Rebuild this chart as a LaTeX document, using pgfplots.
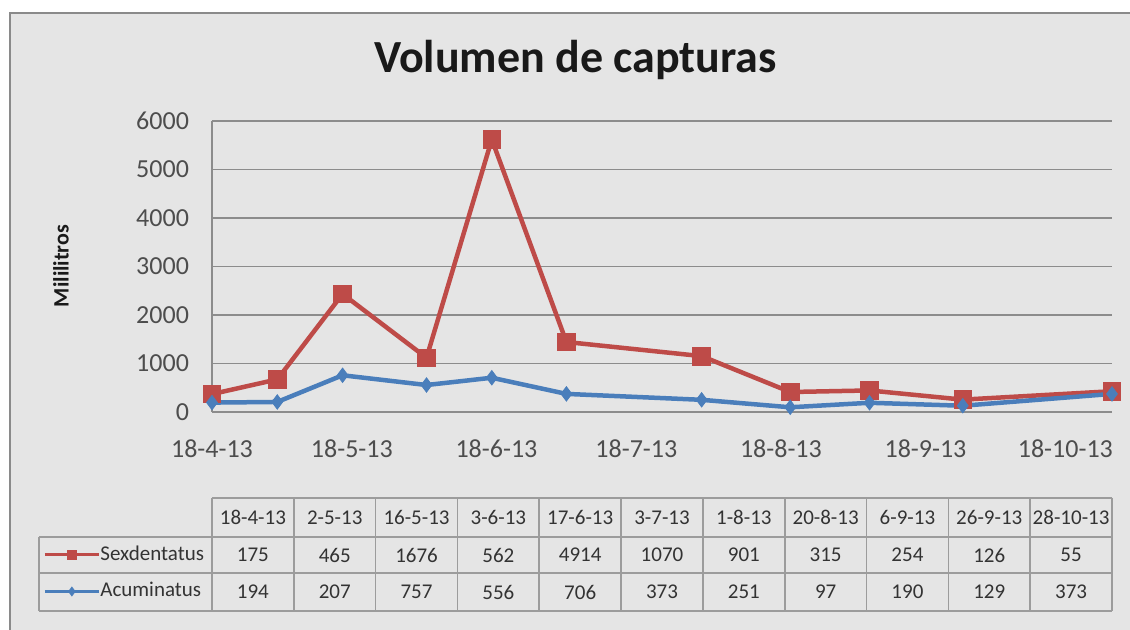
\documentclass[border=0pt]{standalone}
\usepackage{fontspec}
\setmainfont{Carlito}
\usepackage{pgfplots}
\pgfplotsset{compat=1.18}
\usepackage{pgfplotstable}

\definecolor{bgpanel}{HTML}{E5E5E5}
\definecolor{framegray}{HTML}{8A8A8A}
\definecolor{gridgray}{HTML}{8C8C8C}
\definecolor{tablegray}{HTML}{9C9C9C}
\definecolor{ticktext}{HTML}{4D4D4D}
\definecolor{tabtext}{HTML}{333333}
\definecolor{sexred}{HTML}{BE4B48}
\definecolor{acublue}{HTML}{4A7EBB}

% dias desde el 18-4-13; la serie Sexdentatus va apilada sobre Acuminatus
\pgfplotstableread{
x    acu   sex
0    194   175
14   207   465
28   757   1676
46   556   562
60   706   4914
76   373   1070
105  251   901
124  97    315
141  190   254
161  129   126
193  373   55
}\capturas

\begin{document}
\begin{tikzpicture}
\useasboundingbox (0,0) rectangle (565pt,315pt);
\fill[white] (0,0) rectangle (565pt,315pt);
\fill[bgpanel] (5pt,0) rectangle (565pt,308.5pt);
\draw[framegray, line width=0.9pt] (5pt,0) -- (5pt,308.5pt) -- (565pt,308.5pt);

\node[anchor=base, font=\fontsize{23}{27}\selectfont\bfseries, text=black!90]
  at (287.75pt,278.5pt) {Volumen de capturas};
\node[rotate=90, font=\fontsize{11}{13}\selectfont\bfseries, text=black!90]
  at (30.5pt,182pt) {Mililitros};

\begin{axis}[
  at={(106pt,109pt)}, anchor=south west,
  scale only axis, width=450pt, height=145.5pt,
  xmin=0, xmax=193, ymin=0, ymax=6000,
  axis lines*=left,
  axis line style={draw=gridgray, line width=0.75pt},
  xtick={0,30,61,91,122,153,183},
  xticklabels={18-4-13,18-5-13,18-6-13,18-7-13,18-8-13,18-9-13,18-10-13},
  ytick={0,1000,2000,3000,4000,5000,6000},
  ymajorgrids,
  grid style={draw=gridgray, line width=0.75pt},
  major tick length=0pt,
  tick label style={font=\fontsize{13}{15}\selectfont, text=ticktext},
  yticklabel style={xshift=-8pt},
  xticklabel style={yshift=-10.5pt},
  /pgf/number format/assume math mode=true,
  /pgf/number format/1000 sep={},
  stack plots=y,
  clip=false,
  reverse legend,
  legend cell align=left,
  legend style={at={(-0.1878,-0.5533)}, anchor=west, draw=none, fill=none,
    inner sep=0pt, row sep=0pt, column sep=0pt,
    font=\fontsize{10.5}{12}\selectfont, text=tabtext,
    nodes={inner sep=0pt, text height=12pt, text depth=6.5pt}},
  legend image code/.code={
    \draw[mark repeat=2, mark phase=2, #1, line width=1.5pt, mark size=2.2pt]
      plot coordinates {(0pt,0pt) (13.5pt,0pt) (27pt,0pt)};},
]
\addplot[acublue, line width=2.25pt, mark=diamond*, mark size=3.6pt,
  mark options={fill=acublue, draw=acublue, line width=0.4pt}]
  table[x=x, y=acu] {\capturas};
\addplot[sexred, line width=2.25pt, mark=square*, mark size=4.4pt,
  mark options={fill=sexred, draw=sexred, line width=0.4pt}]
  table[x=x, y=sex] {\capturas};
\legend{Acuminatus, Sexdentatus}
\end{axis}

% tabla de datos
\begin{scope}[tablegray, line width=0.8pt]
  \draw (106pt,66pt) -- (556pt,66pt);
  \draw (19.5pt,46.5pt) -- (556pt,46.5pt);
  \draw (19.5pt,28.5pt) -- (556pt,28.5pt);
  \draw (19.5pt,9.5pt) -- (556pt,9.5pt);
  \draw (19.5pt,46.5pt) -- (19.5pt,9.5pt);
  \foreach \k in {0,...,11}
    \draw ({(106+\k*40.909)*1pt},66pt) -- ({(106+\k*40.909)*1pt},9.5pt);
\end{scope}
\begin{scope}[every node/.style={font=\fontsize{10.5}{12}\selectfont, text=tabtext}]
  \foreach \lab [count=\i] in {18-4-13,2-5-13,16-5-13,3-6-13,17-6-13,3-7-13,1-8-13,20-8-13,6-9-13,26-9-13,28-10-13}
    \node at ({(106+(\i-0.5)*40.909)*1pt},56.25pt) {\lab};
  \foreach \v [count=\i] in {175,465,1676,562,4914,1070,901,315,254,126,55}
    \node at ({(106+(\i-0.5)*40.909)*1pt},37.5pt) {\v};
  \foreach \v [count=\i] in {194,207,757,556,706,373,251,97,190,129,373}
    \node at ({(106+(\i-0.5)*40.909)*1pt},19pt) {\v};
\end{scope}
\end{tikzpicture}
\end{document}
